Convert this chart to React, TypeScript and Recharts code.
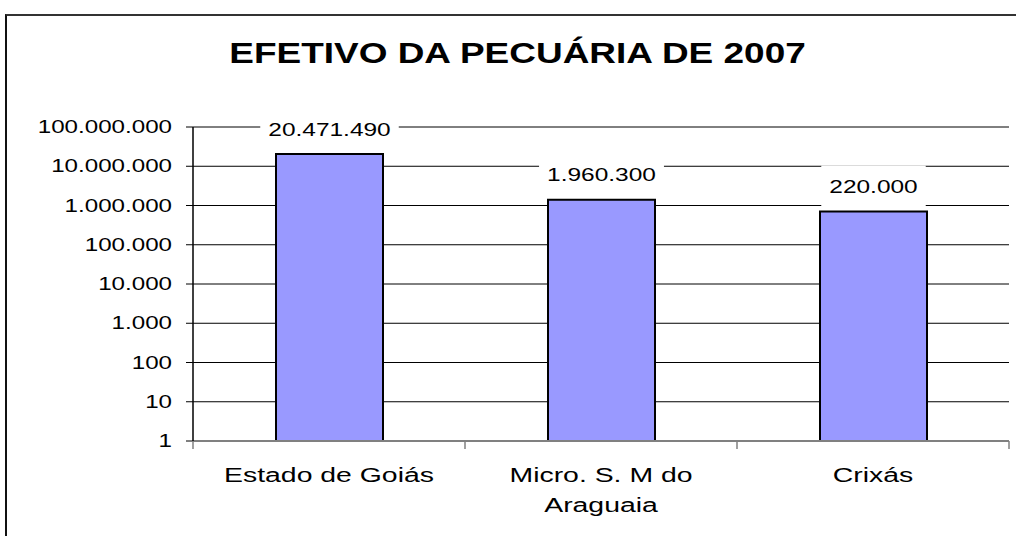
import React from 'react';
import { BarChart, Bar, XAxis, YAxis, CartesianGrid, LabelList } from 'recharts';

// Dados (escala logarítmica)
const categorias = ['Estado de Goiás', 'Micro. S. M do\nAraguaia', 'Crixás'];
const efetivo = [20471490, 1400000, 700000];
const rotulos = ['20.471.490', '1.960.300', '220.000'];
const ticksY = [1, 10, 100, 1000, 10000, 100000, 1000000, 10000000, 100000000];

const dados = categorias.map((categoria, i) => ({
  categoria,
  efetivo: efetivo[i],
  rotulo: rotulos[i],
}));

const FONTE = '"Liberation Sans", Arial, sans-serif';

const formatarMilhar = (n: number) => String(n).replace(/\B(?=(\d{3})+(?!\d))/g, '.');

// largura aproximada do texto em Liberation Sans (digitos .556em, ponto .278em)
const larguraTexto = (s: string, tamanho: number, escala: number) =>
  s.split('').reduce((acc, c) => acc + (c === '.' ? 0.278 : 0.556), 0) * tamanho * escala;

const TickValor = (props: any) => {
  const { x, y, payload } = props;
  return (
    <g transform={`translate(${x},${y + 6})`}>
      <text transform="scale(1.38,1)" textAnchor="end" fontSize={17.5} fontFamily={FONTE} fill="#000">
        {formatarMilhar(payload.value)}
      </text>
    </g>
  );
};

const TickCategoria = (props: any) => {
  const { x, y, payload, index } = props;
  const linhas: string[] = String(payload.value).split('\n');
  const meia = 136;
  return (
    <g>
      <line x1={x - meia} x2={x - meia} y1={y - 8} y2={y} stroke="#808080" strokeWidth={1.5} />
      {index === categorias.length - 1 && (
        <line x1={x + meia} x2={x + meia} y1={y - 8} y2={y} stroke="#808080" strokeWidth={1.5} />
      )}
      {linhas.map((linha, i) => (
        <g key={i} transform={`translate(${x},${y + 32.5 + i * 30})`}>
          <text transform="scale(1.42,1)" textAnchor="middle" fontSize={20} fontFamily={FONTE} fill="#000">
            {linha}
          </text>
        </g>
      ))}
    </g>
  );
};

const EtiquetaValor = (props: any) => {
  const { x, y, width, value } = props;
  const cx = Number(x) + Number(width) / 2;
  const cy = Number(y) - 25;
  const w = larguraTexto(String(value), 18, 1.36) + 16;
  return (
    <g>
      <rect x={cx - w / 2} y={cy - 21} width={w} height={42} fill="#fff" />
      <g transform={`translate(${cx},${cy + 6.5})`}>
        <text transform="scale(1.36,1)" textAnchor="middle" fontSize={18} fontFamily={FONTE} fill="#000">
          {value}
        </text>
      </g>
    </g>
  );
};

export default function App() {
  return (
    <div style={{ position: 'fixed', left: 0, top: 0, width: 1016, height: 536, overflow: 'hidden', background: '#fff' }}>
      <div
        style={{
          position: 'absolute',
          left: 5,
          top: 14,
          width: 1100,
          height: 600,
          borderLeft: '2px solid #111',
          borderTop: '2px solid #333',
        }}
      />
      <svg width={1016} height={100} style={{ position: 'absolute', left: 0, top: 0 }}>
        <g transform="translate(517.5,63)">
          <text transform="scale(1.275,1)" textAnchor="middle" fontSize={29} fontWeight="bold" fontFamily={FONTE} fill="#000">
            EFETIVO DA PECUÁRIA DE 2007
          </text>
        </g>
      </svg>
      <div style={{ position: 'absolute', left: 0, top: 0 }}>
        <BarChart width={1016} height={536} data={dados} margin={{ top: 127, right: 7, bottom: 0, left: 0 }} barSize={107}>
          <CartesianGrid vertical={false} stroke="#000" strokeWidth={1} />
          <XAxis
            dataKey="categoria"
            height={95}
            axisLine={{ stroke: '#808080', strokeWidth: 2 }}
            tickLine={false}
            tickSize={8}
            tickMargin={0}
            interval={0}
            tick={<TickCategoria />}
          />
          <YAxis
            type="number"
            scale="log"
            domain={[1, 100000000]}
            ticks={ticksY}
            width={193}
            axisLine={{ stroke: '#000', strokeWidth: 1.5 }}
            tickLine={{ stroke: '#000', strokeWidth: 1 }}
            tickSize={7}
            tickMargin={14}
            interval={0}
            tick={<TickValor />}
          />
          <Bar dataKey="efetivo" fill="#9999FF" stroke="#000" strokeWidth={2} isAnimationActive={false}>
            <LabelList dataKey="rotulo" content={<EtiquetaValor />} />
          </Bar>
        </BarChart>
      </div>
    </div>
  );
}
